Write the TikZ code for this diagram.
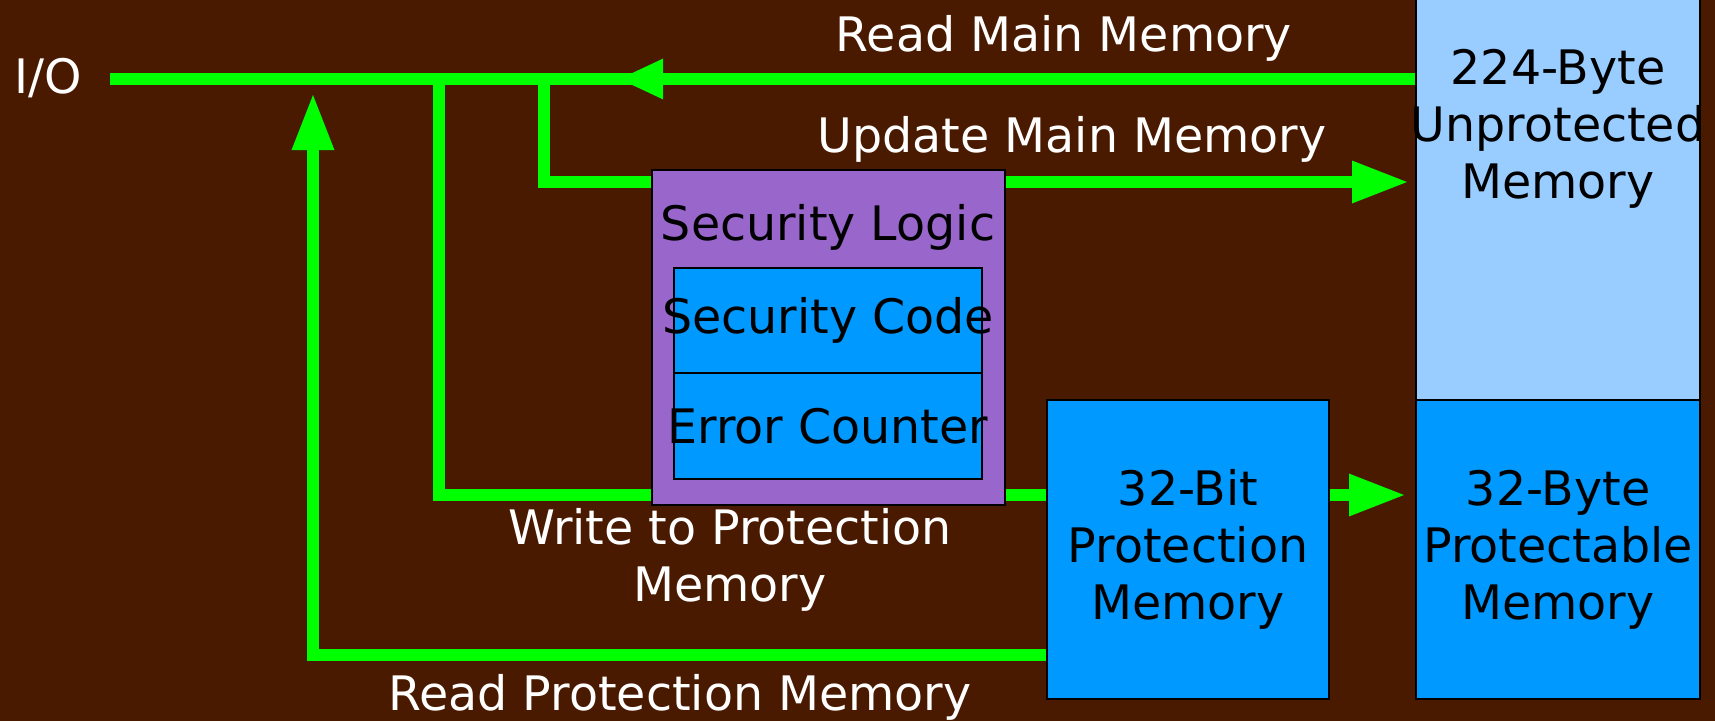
\documentclass[tikz,border=0pt]{standalone}
\usepackage{fontspec}
\setmainfont{DejaVu Sans}
\usetikzlibrary{arrows.meta}
\definecolor{bgbrown}{HTML}{4A1A00}
\definecolor{flowgreen}{HTML}{00FF00}
\definecolor{logicpurple}{HTML}{9966CC}
\definecolor{memblue}{HTML}{0099FF}
\definecolor{memlight}{HTML}{99CCFF}
\tikzset{
  flow/.style={draw=flowgreen, line width=12pt},
  bigtip/.style={-{Triangle[length=57pt,width=39pt]}},
  midtip/.style={-{Triangle[length=45pt,width=37pt]}},
  boxtext/.style={text=black, inner sep=0pt, align=center, font=\fontsize{47.5}{57}\selectfont},
  box/.style={draw=black, line width=1.2pt, inner sep=0pt, boxtext},
  lbl/.style={text=white, inner sep=0pt, align=center, font=\fontsize{47.5}{57}\selectfont}
}
\begin{document}
\begin{tikzpicture}[x=1pt,y=-1pt]
\fill[bgbrown] (0,0) rectangle (1715,721);
\useasboundingbox (0,0) rectangle (1715,721);

% box positions (needed by connectors; redrawn on top below)
\path (1558,197.5) node[box, draw=none, minimum width=284, minimum height=405] (unprot) {};

% connector coordinates
\coordinate (io) at (110,79);
\coordinate (j1) at (544,79);
\coordinate (j2) at (439,79);
\coordinate (rmtip) at (618,79);
\coordinate (umtip) at (1409,182);
\coordinate (wrend) at (1047,495);
\coordinate (pbtip) at (1406,495);
\coordinate (rpstart) at (1047,655);
\coordinate (rptip) at (313,93);
\coordinate (pmeast) at (1329,495);

% green connectors
\draw[flow] (io) -- (unprot.west |- io);
\draw[flow, midtip] (unprot.west |- io) -- (rmtip);
\draw[flow, bigtip] (j1) |- (umtip);
\draw[flow] (j2) |- (wrend);
\draw[flow, bigtip] (pmeast) -- (pbtip);
\draw[flow, bigtip] (rpstart) -| (rptip);

% boxes on top
\node[box, fill=logicpurple, minimum width=353, minimum height=335] (secl) at (828.5,337.5) {};
\node[box, fill=memblue, minimum width=308, minimum height=105,
  label={[boxtext]center:Security Code}] (seccode) at (828,320.5) {};
\node[box, fill=memblue, minimum width=308, minimum height=106,
  label={[boxtext]center:Error Counter}] (errc) at (828,426) {};
\node[box, fill=memblue, minimum width=282, minimum height=299] (pm32) at (1188,549.5) {32-Bit\\Protection\\Memory};
\node[box, fill=memlight, minimum width=284, minimum height=405] (unprot) at (1558,197.5) {};
\node[box, fill=memblue, minimum width=284, minimum height=299] (pb32) at (1558,549.5) {32-Byte\\Protectable\\Memory};

% texts
\node[boxtext] (secltxt) at (828,227) {Security Logic};
\node[boxtext] (unprottxt) at (1558,129) {224-Byte\\Unprotected\\Memory};
\node[lbl] (iolbl) at (48.5,78) {I/O};
\node[lbl] (rmlbl) at (1064,38) {Read Main Memory};
\node[lbl] (umlbl) at (1072,139) {Update Main Memory};
\node[lbl] (wrlbl) at (730,560) {Write to Protection\\Memory};
\node[lbl] (rplbl) at (680,697) {Read Protection Memory};
\end{tikzpicture}
\end{document}
